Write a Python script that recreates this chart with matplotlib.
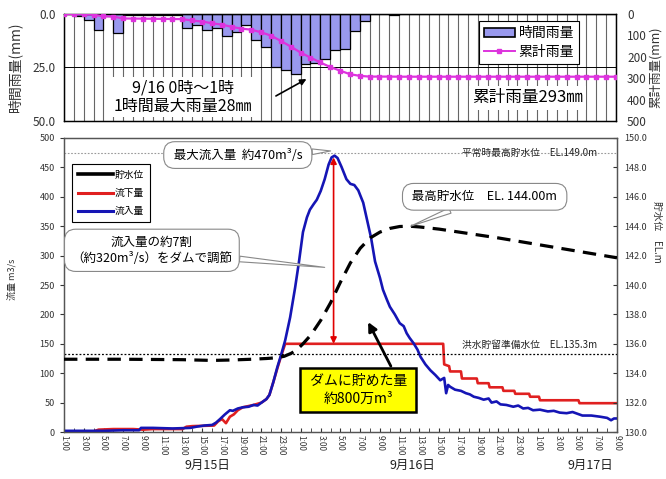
import numpy as np
import matplotlib
matplotlib.use('Agg')
import matplotlib.pyplot as plt
from matplotlib.lines import Line2D
from matplotlib.patches import Patch
import matplotlib.transforms as mtransforms

plt.rcParams['font.family'] = ['Noto Sans CJK JP', 'DejaVu Sans']

# hours counted from 9/15 1:00
# hourly rainfall (mm), one bar per hour
rain_hourly = [0, 0.8, 2.6, 7.5, 1.0, 9.0, 0.5, 0.5, 0.5, 0.5, 0.5, 0.5,
               6.5, 5.0, 7.7, 6.5, 10.3, 8.3, 5.2, 12.2, 15.5, 25.0, 26.0, 28.0,
               23.5, 23.0, 21.0, 17.0, 16.5, 8.0, 3.4, 0, 0, 0.5, 0, 0,
               0, 0, 0, 0, 0, 0, 0, 0, 0, 0, 0, 0,
               0, 0, 0, 0, 0, 0, 0, 0]
# cumulative rainfall (mm) at each hour mark
rain_cum = [0, 0, 0.8, 3.4, 10.9, 11.9, 20.9, 21.4, 21.9, 22.4, 22.9, 23.4,
            23.9, 30.4, 35.4, 43.1, 49.6, 59.9, 68.2, 73.4, 85.6, 101.1, 126.1, 152.1,
            180.1, 203.6, 226.6, 247.6, 264.6, 281.1, 289.1, 292.5, 292.5, 292.5, 293, 293,
            293, 293, 293, 293, 293, 293, 293, 293, 293, 293, 293, 293,
            293, 293, 293, 293, 293, 293, 293, 293, 293]

# inflow (m3/s)
in_h = [0, 2, 4, 6, 7.6, 7.8, 9, 11, 12.8, 13.4,
        14.2, 15.0, 15.4, 15.8, 16.3, 16.8, 17.1, 17.6, 18.1, 18.7,
        19.2, 19.6, 20.0, 20.5, 20.8, 21.2, 21.6, 22.0, 22.4, 22.9,
        23.4, 23.8, 24.2, 24.6, 24.9, 25.3, 25.6, 26.0, 26.4, 26.8,
        27.1, 27.4, 27.7, 28.1, 28.6, 29.0, 29.4, 29.8, 30.3, 30.7,
        31.1, 31.5, 32.0, 32.3, 32.7, 33.0, 33.5, 34.0, 34.4, 34.7,
        35.0, 35.4, 35.8, 36.1, 36.6, 37.1, 37.6, 38.1, 38.5, 38.7,
        38.9, 39.1, 39.6, 40.2, 40.7, 41.1, 41.5, 42.0, 42.5, 43.0,
        43.3, 43.8, 44.2, 44.8, 45.5, 46.0, 46.5, 47.0, 47.5, 48.2,
        49.0, 49.6, 50.2, 50.9, 51.5, 52.5, 53.4, 54.3, 55.0, 55.4,
        55.7, 56.0]
in_q = [2, 2, 2, 3, 3, 7, 7, 6, 7, 9,
        11, 12, 16, 22, 30, 37, 36, 40, 42, 43,
        46, 45, 50, 56, 63, 85, 110, 132, 156, 195,
        245, 290, 340, 365, 378, 388, 395, 410, 430, 455,
        467, 470, 466, 451, 430, 422, 420, 411, 390, 360,
        330, 290, 262, 242, 225, 213, 200, 185, 180, 168,
        160, 151, 140, 128, 115, 105, 97, 88, 92, 66,
        80, 77, 72, 70, 66, 64, 60, 58, 55, 57,
        50, 52, 47, 46, 43, 45, 40, 41, 37, 38,
        35, 36, 33, 32, 34, 28, 28, 26, 24, 20,
        23, 23]

# outflow (m3/s)
out_h = [0, 3, 3.5, 5, 7, 8, 9, 12, 12.4, 13,
         15.2, 15.6, 16.0, 16.4, 16.8, 17.2, 17.6, 18.1, 19.2, 20.0,
         20.5, 20.8, 21.2, 21.6, 22.0, 22.4, 38.4, 38.5, 39.0, 39.1,
         40.2, 40.3, 41.8, 41.9, 43.0, 43.1, 44.4, 44.5, 45.6, 45.7,
         47.1, 47.2, 48.1, 48.2, 52.1, 52.2, 56.0]
out_q = [0, 1, 4, 5, 5, 4, 5, 5, 9, 10,
         11, 18, 22, 15, 26, 30, 37, 42, 46, 50,
         56, 63, 85, 108, 130, 150, 150, 115, 112, 103,
         103, 91, 91, 83, 83, 76, 76, 70, 70, 65,
         65, 60, 60, 54, 54, 49, 49]

# reservoir level (EL.m)
lev_h = [0, 6, 12, 15, 17, 19, 20.5, 21.5, 22.3, 23,
         23.6, 24.2, 25, 26, 27, 28, 29, 30, 31, 32,
         33, 34, 35, 36, 38, 40, 44, 48, 52, 56]
lev_el = [134.95, 134.95, 134.92, 134.87, 134.9, 134.95, 135.0, 135.05, 135.15, 135.35,
          135.6, 136.0, 136.6, 137.6, 138.8, 140.2, 141.5, 142.5, 143.2, 143.6,
          143.85, 143.98, 144.0, 143.95, 143.8, 143.6, 143.2, 142.75, 142.3, 141.85]

time_labels = ['1:00', '3:00', '5:00', '7:00', '9:00', '11:00', '13:00', '15:00',
               '17:00', '19:00', '21:00', '23:00',
               '1:00', '3:00', '5:00', '7:00', '9:00', '11:00', '13:00', '15:00',
               '17:00', '19:00', '21:00', '23:00',
               '1:00', '3:00', '5:00', '7:00', '9:00']
date_labels = ['9月15日', '9月16日', '9月17日']
date_pos = [14.5, 35.3, 53.3]

normal_max = 149.0
flood_prep = 135.3

tick_col = '#333333'

fig = plt.figure(figsize=(6.66, 4.79), dpi=100)

# ---------------- rainfall panel ----------------
ax_t = fig.add_axes([0.0961, 0.7474, 0.8288, 0.2234])
ax_t2 = ax_t.twinx()

hours = np.arange(len(rain_cum))
ax_t.bar(hours[:-1], rain_hourly, width=1.0, align='edge', color='#9999EE',
         edgecolor='black', linewidth=0.9, zorder=2)
ax_t.set_xlim(0, 56)
ax_t.set_ylim(50, 0)
ax_t.set_xticks(hours)
ax_t.tick_params(axis='x', length=0, labelbottom=False)
ax_t.grid(axis='x', color='#666666', linewidth=0.8, zorder=0)
ax_t.set_axisbelow(True)
ax_t.axhline(25, color='black', linewidth=0.7, zorder=1)
ax_t.set_yticks([0, 25, 50])
ax_t.set_yticklabels(['0.0', '25.0', '50.0'])
ax_t.tick_params(axis='y', labelsize=8.5, colors=tick_col, length=0, pad=6)

ax_t2.plot(hours, rain_cum, color='#DD33DD', linewidth=1.6, marker='s',
           markersize=2.8, zorder=3)
ax_t2.set_ylim(500, 0)
ax_t2.set_yticks([0, 100, 200, 300, 400, 500])
ax_t2.tick_params(axis='y', labelsize=8.5, colors=tick_col, length=0, pad=8)
for a in (ax_t, ax_t2):
    for s in a.spines.values():
        s.set_color('black')
        s.set_linewidth(0.9)

ax_t.text(12.1, 38.8, '9/16 0時～1時\n1時間最大雨量28㎜', ha='center', va='center',
          fontsize=11.5, linespacing=1.15, zorder=5,
          bbox=dict(boxstyle='square,pad=0.15', fc='white', ec='none'))
ax_t.annotate('', xy=(24.6, 30.4), xytext=(21.5, 38.3),
              arrowprops=dict(arrowstyle='-|>', color='black', lw=1.2,
                              mutation_scale=9, shrinkA=0, shrinkB=0), zorder=6)
ax_t.text(47.0, 39.2, '累計雨量293㎜', ha='center', va='center', fontsize=12, zorder=5,
          bbox=dict(boxstyle='square,pad=0.2', fc='white', ec='none'))

top_handles = [Patch(facecolor='#9999EE', edgecolor='black', linewidth=1.2),
               Line2D([], [], color='#DD33DD', linewidth=1.4, marker='s', markersize=2.8)]
leg_t = ax_t2.legend(top_handles, ['時間雨量', '累計雨量'], loc='upper left',
                     bbox_to_anchor=(0.752, 0.93), fontsize=10, frameon=True,
                     fancybox=False, edgecolor='black', framealpha=1,
                     handlelength=2.2, handletextpad=0.3, labelspacing=0.35,
                     borderpad=0.35, borderaxespad=0)
leg_t.get_frame().set_linewidth(0.8)

fig.text(0.022, 0.86, '時間雨量(mm)', rotation=90, ha='center', va='center',
         fontsize=10, color=tick_col)
fig.text(0.984, 0.86, '累計雨量(mm)', rotation=90, ha='center', va='center',
         fontsize=9, color=tick_col)

# ---------------- discharge panel ----------------
ax_m = fig.add_axes([0.0961, 0.0981, 0.8303, 0.6138])
ax_m2 = ax_m.twinx()

ax_m.plot(out_h, out_q, color='#E02020', linewidth=1.9, zorder=3)
ax_m.plot(in_h, in_q, color='#1515B5', linewidth=1.9, zorder=4)
ax_m.annotate('', xy=(27.3, 467), xytext=(27.3, 150),
              arrowprops=dict(arrowstyle='<|-|>', color='#E00000', lw=1.2,
                              mutation_scale=9, shrinkA=0, shrinkB=0), zorder=5)

ax_m.set_xlim(0, 56)
ax_m.set_ylim(0, 500)
ax_m.set_yticks(np.arange(0, 501, 50))
ax_m.set_xticks(np.arange(0, 57, 2))
ax_m.set_xticks(np.arange(0, 57, 1), minor=True)
ax_m.set_xticklabels(time_labels, rotation=-90, fontsize=5.8, color=tick_col)
ax_m.tick_params(axis='x', which='both', direction='in', length=3, colors=tick_col,
                 labelcolor=tick_col, pad=2)
ax_m.tick_params(axis='y', labelsize=6.5, colors=tick_col, length=3)

ax_m2.set_ylim(130, 150)
ax_m2.set_yticks(np.arange(130, 150.1, 2))
ax_m2.set_yticklabels(['%.1f' % v for v in np.arange(130, 150.1, 2)])
ax_m2.tick_params(axis='y', labelsize=6.5, colors=tick_col, direction='in', length=3, pad=5)

ax_m2.axhline(normal_max, color='#999999', linestyle=(0, (1.5, 1.5)), linewidth=0.8)
ax_m2.axhline(flood_prep, color='black', linestyle=(0, (1.5, 1.5)), linewidth=0.9)
lv, = ax_m2.plot(lev_h, lev_el, color='black', linewidth=2.3, zorder=3)
lv.set_dashes((4.2, 2.6))

for a in (ax_m, ax_m2):
    for s in a.spines.values():
        s.set_color('#555555')
        s.set_linewidth(0.9)

ax_m2.text(54.0, 148.65, '平常時最高貯水位　EL.149.0m', ha='right', va='bottom',
           fontsize=7, color='#222222')
ax_m2.text(54.0, 135.55, '洪水貯留準備水位　EL.135.3m', ha='right', va='bottom',
           fontsize=7, color='#222222')

bubble = dict(boxstyle='round,pad=0.55,rounding_size=0.9', fc='white', ec='#888888', lw=0.8)
tail = dict(arrowstyle='wedge,tail_width=0.45', fc='white', ec='#888888', lw=0.8,
            shrinkA=0, shrinkB=0)
ax_m2.annotate(' 最大流入量  約470m³/s ', xy=(27.0, 478), xycoords=ax_m.transData,
               xytext=(17.6, 471), textcoords=ax_m.transData, ha='center', va='center',
               fontsize=9, bbox=bubble, arrowprops=tail, zorder=8)
ax_m2.annotate('流入量の約7割\n（約320m³/s）をダムで調節', xy=(26.4, 280),
               xycoords=ax_m.transData, xytext=(8.9, 309), textcoords=ax_m.transData,
               ha='center', va='center', fontsize=9, linespacing=1.25,
               bbox=bubble, arrowprops=tail, zorder=8)
ax_m2.annotate(' 最高貯水位　EL. 144.00m ', xy=(35.1, 350), xycoords=ax_m.transData,
               xytext=(42.6, 400), textcoords=ax_m.transData, ha='center', va='center',
               fontsize=9, bbox=bubble, arrowprops=tail, zorder=8)

ax_m2.annotate('', xy=(30.8, 187), xycoords=ax_m.transData, xytext=(33.1, 112),
               textcoords=ax_m.transData,
               arrowprops=dict(arrowstyle='-|>', color='black', lw=2.0,
                               mutation_scale=13, shrinkA=0, shrinkB=0), zorder=8)
ax_m2.text(29.8, 71.4, ' ダムに貯めた量 \n約800万m³', transform=ax_m.transData,
           ha='center', va='center', fontsize=10, linespacing=1.3, zorder=9,
           bbox=dict(boxstyle='square,pad=0.45', fc='#FFFF00', ec='black', lw=1.8))

main_handles = [Line2D([], [], color='black', linewidth=2.6),
                Line2D([], [], color='#E02020', linewidth=2.2),
                Line2D([], [], color='#1515B5', linewidth=2.2)]
leg_m = ax_m2.legend(main_handles, ['貯水位', '流下量', '流入量'], loc='upper left',
                     bbox_to_anchor=(0.0145, 0.912), fontsize=7, frameon=True,
                     fancybox=False, edgecolor='black', framealpha=1,
                     handlelength=3.6, handletextpad=0.2, labelspacing=0.85,
                     borderpad=0.6, borderaxespad=0)
leg_m.get_frame().set_linewidth(0.8)
leg_m.set_zorder(9)

trans = mtransforms.blended_transform_factory(ax_m.transData, fig.transFigure)
for pos, lab in zip(date_pos, date_labels):
    fig.text(pos, 0.029, lab, transform=trans, ha='center', va='center',
             fontsize=9, color='#222222')

fig.text(0.018, 0.417, '流量 m3/s', rotation=90, ha='center', va='center',
         fontsize=6.5, color=tick_col)
fig.text(0.987, 0.515, '貯水位　EL.m', rotation=-90, ha='center', va='center',
         fontsize=7, color=tick_col)

fig.savefig('out.png', dpi=100, facecolor='white')
